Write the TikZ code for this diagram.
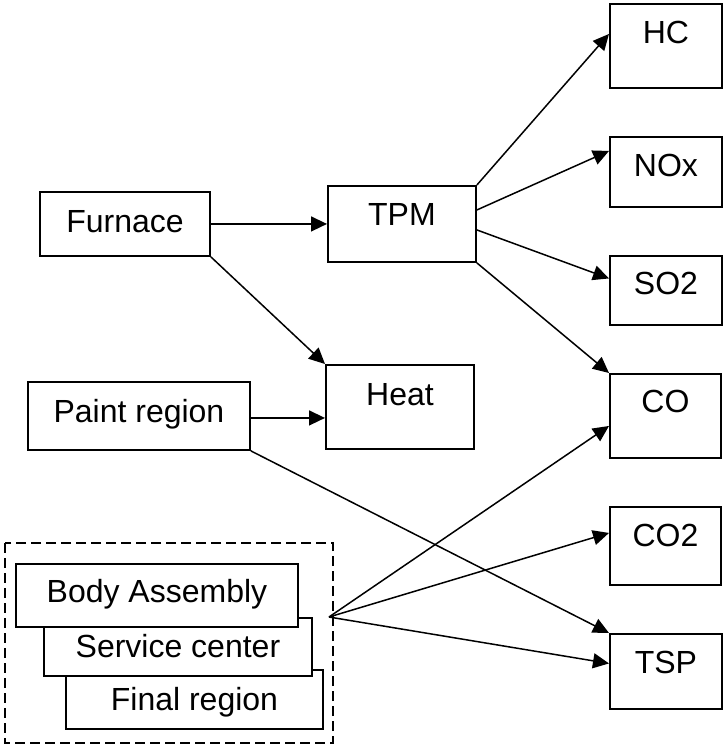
\documentclass[tikz,border=0pt]{standalone}
\usepackage{fontspec}
\setmainfont{Liberation Sans}
\usetikzlibrary{arrows.meta}

\begin{document}
\begin{tikzpicture}[x=1pt, y=-1pt,
    box/.style={draw, line width=1.9pt, fill=white, inner sep=0pt, anchor=north west,
      font=\fontsize{32}{38}\selectfont},
    flow/.style={line width=1.5pt, -{Triangle[length=16pt, width=15pt]}}]
  \useasboundingbox (0,0) rectangle (723,747);

  \draw[line width=1.6pt, dash pattern=on 10pt off 5pt] (5,543) rectangle (333,743);

  \node[box, minimum width=170pt, text height=41pt, text depth=23pt] (furnace) at (39,191) {Furnace};
  \node[box, minimum width=148pt, text height=40pt, text depth=36pt] (tpm)     at (327,185) {TPM};
  \node[box, minimum width=148pt, text height=41pt, text depth=43pt] (heat)    at (325,364) {Heat};
  \node[box, minimum width=222pt, text height=41pt, text depth=27pt] (paint)   at (27,381)  {Paint region};

  \node[box, minimum width=112pt, text height=40pt, text depth=44pt] (hc)  at (609,3)   {HC};
  \node[box, minimum width=112pt, text height=40pt, text depth=30pt] (nox) at (609,136) {NOx};
  \node[box, minimum width=112pt, text height=39pt, text depth=30pt] (so2) at (609,255) {SO2};
  \node[box, minimum width=111pt, text height=39pt, text depth=45pt] (co)  at (609,373) {CO};
  \node[box, minimum width=111pt, text height=40pt, text depth=38pt] (co2) at (609,506) {CO2};
  \node[box, minimum width=112pt, text height=40pt, text depth=35pt] (tsp) at (609,633) {TSP};

  \node[box, minimum width=257pt, text height=41pt, text depth=18pt] (final)   at (65,669) {Final region};
  \node[box, minimum width=268pt, text height=40pt, text depth=18pt] (service) at (43,617) {Service center};
  \node[box, minimum width=282pt, text height=39pt, text depth=24pt] (body)    at (15,563) {Body Assembly};

  \coordinate (src) at (329,617);

  \draw[flow] (furnace.east) -- (furnace.east -| tpm.west);
  \draw[flow] (furnace.south east) -- (heat.north west);
  \draw[flow] ([yshift=-2pt]paint.east) -- ([yshift=-2pt]paint.east -| heat.west);
  \draw[flow] (paint.south east) -- (tsp.north west);

  \draw[flow] (tpm.north east) -- ([yshift=12pt]hc.west);
  \draw[flow] ([yshift=14pt]tpm.east) -- ([yshift=21pt]nox.west);
  \draw[flow] ([yshift=-6pt]tpm.east) -- ([yshift=12pt]so2.west);
  \draw[flow] (tpm.south east) -- (co.north west);

  \draw[flow] (src) -- ([yshift=-10pt]co.west);
  \draw[flow] (src) -- ([yshift=13pt]co2.west);
  \draw[flow] (src) -- ([yshift=8pt]tsp.west);
\end{tikzpicture}
\end{document}
